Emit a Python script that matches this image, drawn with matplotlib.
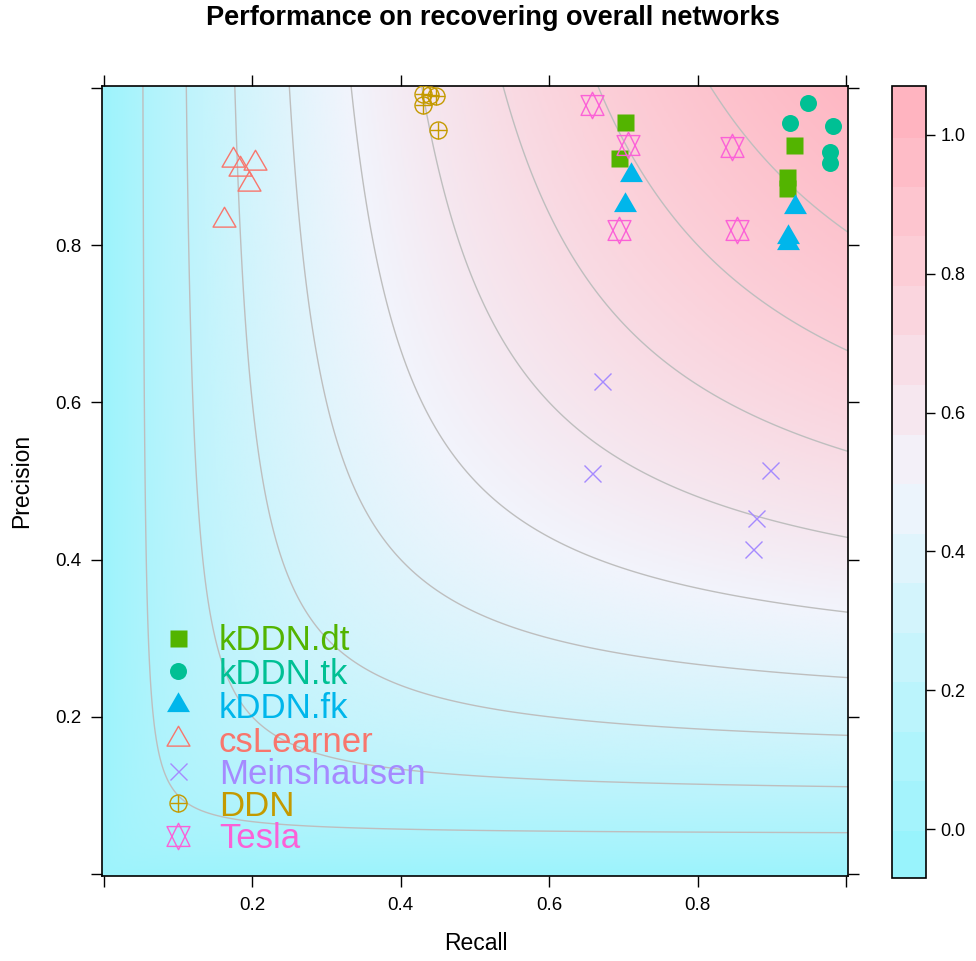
import numpy as np
import matplotlib
matplotlib.use('Agg')
import matplotlib.pyplot as plt
from matplotlib.colors import LinearSegmentedColormap, ListedColormap, BoundaryNorm
from matplotlib.path import Path
import matplotlib.cm as cm

plt.rcParams['font.family'] = ['Liberation Sans', 'DejaVu Sans']

# ---------------- data ----------------
methods = ['kDDN.dt', 'kDDN.tk', 'kDDN.fk', 'csLearner', 'Meinshausen', 'DDN', 'Tesla']
method_colors = ['#53B400', '#00C094', '#00B6EB', '#F8766D', '#A58AFF', '#C49A00', '#FB61D7']

recall_kddn_dt = [0.702, 0.694, 0.930, 0.920, 0.920]
precision_kddn_dt = [0.957, 0.911, 0.927, 0.887, 0.873]

recall_kddn_tk = [0.949, 0.925, 0.982, 0.978, 0.978]
precision_kddn_tk = [0.981, 0.955, 0.951, 0.918, 0.905]

recall_kddn_fk = [0.710, 0.702, 0.931, 0.922, 0.922]
precision_kddn_fk = [0.889, 0.851, 0.849, 0.811, 0.803]

recall_cslearner = [0.174, 0.183, 0.203, 0.196, 0.162]
precision_cslearner = [0.908, 0.897, 0.905, 0.878, 0.832]

recall_meinshausen = [0.671, 0.657, 0.897, 0.878, 0.875]
precision_meinshausen = [0.627, 0.510, 0.514, 0.453, 0.414]

recall_ddn = [0.430, 0.440, 0.447, 0.430, 0.450]
precision_ddn = [0.992, 0.991, 0.990, 0.978, 0.946]

recall_tesla = [0.657, 0.706, 0.846, 0.694, 0.853]
precision_tesla = [0.978, 0.927, 0.925, 0.819, 0.819]

contour_levels = [0.1, 0.2, 0.3, 0.4, 0.5, 0.6, 0.7, 0.8, 0.9]
colorbar_ticks = [0.0, 0.2, 0.4, 0.6, 0.8, 1.0]
axis_ticks = [0.0, 0.2, 0.4, 0.6, 0.8, 1.0]
axis_ticklabels = ['', '0.2', '0.4', '0.6', '0.8', '']

recalls = [recall_kddn_dt, recall_kddn_tk, recall_kddn_fk, recall_cslearner,
           recall_meinshausen, recall_ddn, recall_tesla]
precisions = [precision_kddn_dt, precision_kddn_tk, precision_kddn_fk, precision_cslearner,
              precision_meinshausen, precision_ddn, precision_tesla]

# ---------------- figure ----------------
W, H = 976, 961
fig = plt.figure(figsize=(W / 100, H / 100), dpi=100)

def fx(px):
    return px / W

def fy(py):
    return 1 - py / H

ax = fig.add_axes([fx(102), fy(876), fx(848) - fx(102), fy(86) - fy(876)])
cax = fig.add_axes([fx(892), fy(878), fx(926) - fx(892), fy(86) - fy(878)])

# colour palette (cyan -> white -> pink)
ramp = LinearSegmentedColormap.from_list(
    'ramp', [(0.0, '#98F3FC'), (0.25, '#C4F4FC'), (0.5, '#F2F4FC'),
             (0.75, '#FBD3DC'), (1.0, '#FFB4C0')])

zlo, zhi = -0.07, 1.07
nb = 16
bounds = np.linspace(zlo, zhi, nb + 1)
band_cols = [ramp(i / (nb - 1)) for i in range(nb)]
centers = 0.5 * (bounds[:-1] + bounds[1:])

# background F-score field
g = np.linspace(-0.0025, 1.0025, 401)
R, P = np.meshgrid(g, g)
with np.errstate(divide='ignore', invalid='ignore'):
    F = np.where(R + P > 0, 2 * P * R / (R + P), 0.0)
bg = ramp(np.clip((F - centers[0]) / (centers[-1] - centers[0]), 0, 1))
ax.imshow(bg, extent=(g[0], g[-1], g[0], g[-1]), origin='lower',
          interpolation='bilinear', aspect='auto', zorder=0)

ax.contour(R, P, F, levels=contour_levels, colors='#BEBEBE', linewidths=1.0, zorder=1)

# ---------------- markers ----------------
u = 6.12  # base symbol radius in points
tri_up = Path([(0, 1.5551), (1.3468, -0.7776), (-1.3468, -0.7776), (0, 1.5551)],
              [Path.MOVETO, Path.LINETO, Path.LINETO, Path.CLOSEPOLY])
star = Path([(0, -1.5551), (1.3468, 1.1664), (-1.3468, 1.1664), (0, -1.5551),
             (0, 1.5551), (1.3468, -1.1664), (-1.3468, -1.1664), (0, 1.5551)],
            [Path.MOVETO, Path.LINETO, Path.LINETO, Path.CLOSEPOLY,
             Path.MOVETO, Path.LINETO, Path.LINETO, Path.CLOSEPOLY])
tri_ms = 2 * 1.5551 * u


def draw_symbol(axis, x, y, kind, col, transform=None):
    kw = dict(linestyle='none', zorder=3)
    if transform is not None:
        kw['transform'] = transform
    if kind == 0:
        axis.plot(x, y, marker='s', ms=2 * u, mfc=col, mec='none', **kw)
    elif kind == 1:
        axis.plot(x, y, marker='o', ms=2 * u, mfc=col, mec='none', **kw)
    elif kind == 2:
        axis.plot(x, y, marker=tri_up, ms=tri_ms, mfc=col, mec='none', **kw)
    elif kind == 3:
        axis.plot(x, y, marker=tri_up, ms=tri_ms, mfc='none', mec=col, mew=1.0, **kw)
    elif kind == 4:
        axis.plot(x, y, marker='x', ms=2 * u, mec=col, mew=1.0, **kw)
    elif kind == 5:
        axis.plot(x, y, marker='o', ms=2 * u, mfc='none', mec=col, mew=1.0, **kw)
        axis.plot(x, y, marker='+', ms=2 * u, mec=col, mew=1.0, **kw)
    elif kind == 6:
        axis.plot(x, y, marker=star, ms=tri_ms, mfc='none', mec=col, mew=1.0, **kw)


for i, (xs, ys) in enumerate(zip(recalls, precisions)):
    draw_symbol(ax, xs, ys, i, method_colors[i])

# legend (inside panel, lower left)
row_px = [638, 671, 705, 739, 771, 803, 836]
for i, name in enumerate(methods):
    yy = (876 - row_px[i]) / 790
    draw_symbol(ax, [(178 - 102) / 746], [yy], i, method_colors[i], transform=ax.transAxes)
    ax.text((219 - 102) / 746, yy - 12.5 / 790, name, transform=ax.transAxes,
            fontsize=25, color=method_colors[i], ha='left', va='baseline', zorder=4)

ax.set_xlim(-0.0025, 1.0025)
ax.set_ylim(-0.0025, 1.0025)
ax.set_xticks(axis_ticks)
ax.set_xticklabels(axis_ticklabels)
ax.set_yticks(axis_ticks)
ax.set_yticklabels(axis_ticklabels)
ax.tick_params(direction='out', length=8, width=1, labelsize=13.5, pad=7,
               top=True, right=True, colors='black')
for s in ax.spines.values():
    s.set_linewidth(1.2)

# colorbar
sm = cm.ScalarMappable(norm=BoundaryNorm(bounds, nb), cmap=ListedColormap(band_cols))
cb = fig.colorbar(sm, cax=cax, boundaries=bounds, spacing='proportional')
cb.minorticks_off()
cb.set_ticks(colorbar_ticks)
cb.set_ticklabels(['%.1f' % t for t in colorbar_ticks])
cb.ax.tick_params(which='both', direction='out', length=6.5, width=1, labelsize=13, pad=4)
cb.ax.tick_params(which='minor', length=0)
cb.outline.set_linewidth(1.2)
cb.solids.set_edgecolor('face')

# titles
fig.text(0.505, fy(18), 'Performance on recovering overall networks', ha='center',
         va='center', fontsize=19.5, fontweight='bold')
fig.text(fx(476), fy(943), 'Recall', ha='center', va='center', fontsize=16.5)
fig.text(fx(22), fy(481), 'Precision', ha='center', va='center', fontsize=16.5,
         rotation=90)

fig.savefig('out.png', dpi=100)
